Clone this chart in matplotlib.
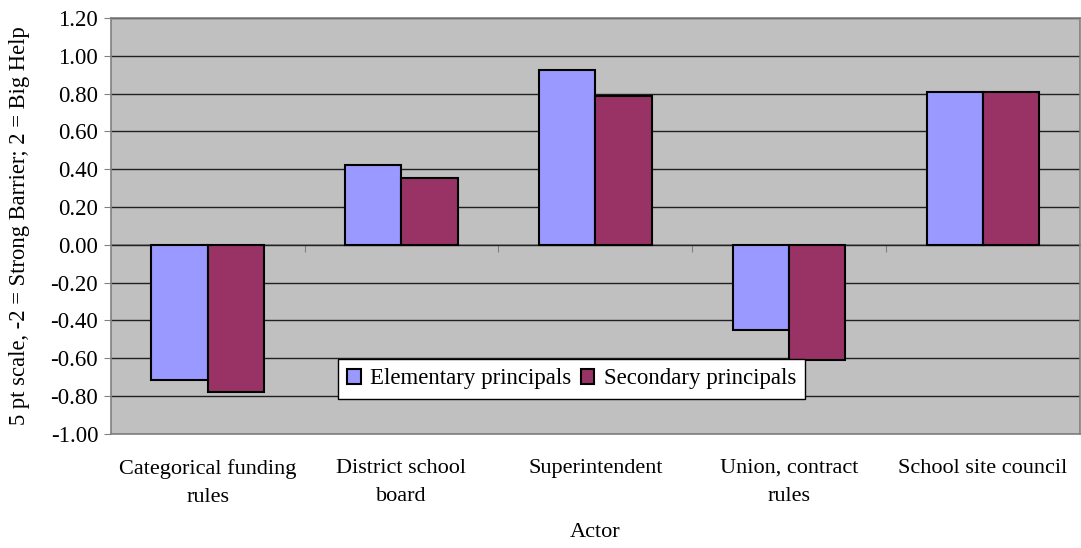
import numpy as np
import matplotlib.pyplot as plt

plt.rcParams['font.family'] = ['Liberation Serif', 'DejaVu Serif']

# data
actors = ['Categorical funding\nrules', 'District school\nboard', 'Superintendent',
          'Union, contract\nrules', 'School site council']
elementary = [-0.715, 0.42, 0.927, -0.45, 0.81]
secondary = [-0.78, 0.355, 0.786, -0.61, 0.81]
yticks = np.round(np.arange(-1.0, 1.21, 0.2), 2)

fig = plt.figure(figsize=(10.81, 5.48), dpi=100)
ax = fig.add_axes([0.1024, 0.2086, 0.8966, 0.7584])
ax.set_facecolor('#C0C0C0')

x = np.arange(len(actors))
w = 0.29
ax.bar(x - w / 2, elementary, w, color='#9999FF', edgecolor='black', linewidth=1.5,
       label='Elementary principals', zorder=3)
ax.bar(x + w / 2, secondary, w, color='#993366', edgecolor='black', linewidth=1.5,
       label='Secondary principals', zorder=3)

ax.set_xlim(-0.5, len(actors) - 0.5)
ax.set_ylim(-1.0, 1.2)
ax.set_yticks(yticks)
ax.set_yticklabels(['%.2f' % (v + 0.0) for v in yticks])
ax.yaxis.grid(True, color='#202020', linewidth=1)
ax.set_axisbelow(True)

ax.set_xticks(x)
ax.set_xticklabels(actors, fontsize=16, linespacing=1.65)
ax.tick_params(axis='x', length=0, pad=18)
ax.tick_params(axis='y', labelsize=16.5, length=5, color='#808080', pad=4)

for s in ['left', 'bottom', 'top', 'right']:
    ax.spines[s].set_color('#808080')
    ax.spines[s].set_linewidth(1.2)

# category axis crossing at zero, ticks between categories
sec = ax.secondary_xaxis(1.0 / 2.2)
sec.set_xticks(np.arange(0.5, len(actors) - 0.5, 1.0))
sec.set_xticklabels([])
sec.tick_params(length=5, direction='out', color='#808080')
sec.spines['bottom'].set_color('#808080')
sec.spines['bottom'].set_linewidth(1.2)

ax.set_ylabel('5 pt scale, -2 = Strong Barrier; 2 = Big Help', fontsize=16.3, labelpad=15)
ax.set_xlabel('Actor', fontsize=16, labelpad=12)

leg = ax.legend(loc='center', bbox_to_anchor=(0.4756, 0.1316), ncol=2, fontsize=16.5,
                fancybox=False, framealpha=1, edgecolor='black', handlelength=0.6,
                handleheight=0.6, handletextpad=0.4, columnspacing=0.4,
                borderpad=0.4)
leg.get_frame().set_linewidth(1)
leg.set_zorder(5)

fig.savefig('out.png', dpi=100)
